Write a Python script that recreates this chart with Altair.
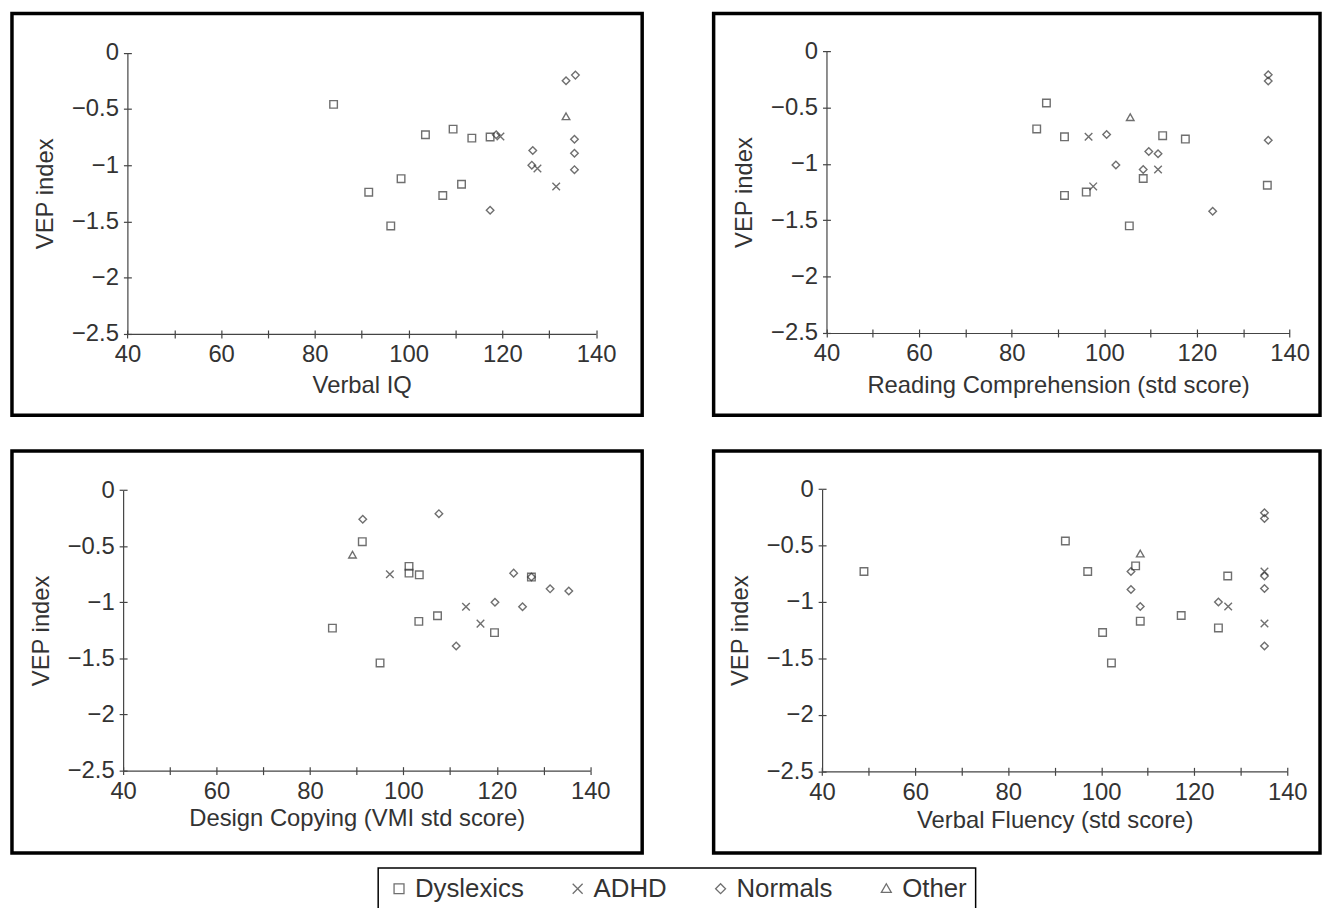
import altair as alt
import pandas as pd

FONT = "Liberation Sans"
INK = "#333333"

GROUPS = ["Dyslexics", "ADHD", "Normals", "Other"]
CODES = {"D": "Dyslexics", "A": "ADHD", "N": "Normals", "O": "Other"}
SHAPES = [
    "M-1,-1H1V1H-1Z",            # square
    "M-1,-1L1,1M-1,1L1,-1",      # x
    "M0,-1L1,0L0,1L-1,0Z",       # diamond
    "M0,-1L1,0.75H-1Z",          # triangle
]

X_TICKS = [40, 50, 60, 70, 80, 90, 100, 110, 120, 130, 140]
Y_TICKS = [0, -0.5, -1, -1.5, -2, -2.5]

# Panel 1: Verbal IQ
viq_x = [84, 91.5, 96.2, 98.4, 103.6, 107.3, 109.5, 111.3, 113.5, 117.4,
         119.6, 127.5, 131.5,
         118.7, 117.4, 126.5, 126.3, 133.6, 135.6, 135.4, 135.4, 135.4,
         133.6]
viq_y = [-0.46, -1.24, -1.54, -1.12, -0.73, -1.27, -0.68, -1.17, -0.76, -0.75,
         -0.745, -1.03, -1.19,
         -0.73, -1.40, -0.87, -1.0, -0.25, -0.2, -0.77, -0.895, -1.04,
         -0.57]
viq_g = ["D", "D", "D", "D", "D", "D", "D", "D", "D", "D",
         "A", "A", "A",
         "N", "N", "N", "N", "N", "N", "N", "N", "N",
         "O"]

# Panel 2: Reading Comprehension
rc_x = [87.5, 85.4, 91.4, 112.6, 117.5, 108.4, 91.4, 96.1, 105.4, 135.2,
        96.6, 111.6, 97.6,
        100.5, 109.6, 111.6, 102.5, 108.4, 123.4, 135.4, 135.4, 135.4,
        105.6]
rc_y = [-0.46, -0.69, -0.76, -0.75, -0.78, -1.13, -1.28, -1.25, -1.55, -1.19,
        -0.76, -1.05, -1.20,
        -0.74, -0.89, -0.91, -1.01, -1.05, -1.42, -0.21, -0.265, -0.79,
        -0.59]
rc_g = ["D", "D", "D", "D", "D", "D", "D", "D", "D", "D",
        "A", "A", "A",
        "N", "N", "N", "N", "N", "N", "N", "N", "N",
        "O"]

# Panel 3: Design Copying
dc_x = [91.2, 101.2, 101.2, 103.4, 84.8, 95.0, 103.3, 107.3, 119.5, 127.4,
        97.1, 113.4, 116.5,
        91.3, 107.6, 119.6, 111.3, 123.6, 127.4, 125.5, 131.4, 135.4,
        89.1]
dc_y = [-0.46, -0.68, -0.74, -0.755, -1.23, -1.54, -1.17, -1.12, -1.27, -0.775,
        -0.75, -1.04, -1.19,
        -0.26, -0.21, -1.0, -1.39, -0.74, -0.775, -1.04, -0.88, -0.90,
        -0.58]
dc_g = ["D", "D", "D", "D", "D", "D", "D", "D", "D", "D",
        "A", "A", "A",
        "N", "N", "N", "N", "N", "N", "N", "N", "N",
        "O"]

# Panel 4: Verbal Fluency
vf_x = [49, 92.3, 97.1, 107.4, 108.4, 100.3, 102.2, 117.2, 127.2, 125.2,
        127.3, 135.1, 135.1,
        106.4, 106.4, 108.4, 125.2, 135.1, 135.1, 135.1, 135.1, 135.1,
        108.4]
vf_y = [-0.73, -0.46, -0.73, -0.68, -1.17, -1.27, -1.54, -1.12, -0.77, -1.23,
        -1.04, -0.73, -1.19,
        -0.73, -0.89, -1.04, -1.0, -0.21, -0.26, -0.77, -0.88, -1.39,
        -0.575]
vf_g = ["D", "D", "D", "D", "D", "D", "D", "D", "D", "D",
        "A", "A", "A",
        "N", "N", "N", "N", "N", "N", "N", "N", "N",
        "O"]


def frame(xs, ys, gs):
    return pd.DataFrame({"x": xs, "y": ys, "group": [CODES[g] for g in gs]})


def panel(df, xtitle, W, H, xa, xb, yb, yt, tpad):
    base = alt.Chart(df)
    main = base.mark_point(filled=False, size=58, strokeWidth=1.4, color=INK).encode(
        x=alt.X("x:Q",
                scale=alt.Scale(domain=[40, 140], range=[xa, xb], nice=False, zero=False),
                axis=alt.Axis(orient="bottom", offset=-(H - yb), values=X_TICKS,
                              labelExpr="datum.value % 20 === 0 ? datum.label : ''",
                              labelOverlap=False, labelFlush=False, labelPadding=5,
                              title=xtitle, titlePadding=tpad, grid=False)),
        y=alt.Y("y:Q",
                scale=alt.Scale(domain=[-2.5, 0], range=[yb, yt], nice=False, zero=False),
                axis=alt.Axis(orient="left", offset=-xa, values=Y_TICKS, format="~g",
                              labelOverlap=False, labelFlush=False, labelPadding=5,
                              title="VEP index", titlePadding=14, grid=False)),
        shape=alt.Shape("group:N",
                        scale=alt.Scale(domain=GROUPS, range=SHAPES),
                        legend=alt.Legend(title=None, orient="none", legendX=369, legendY=861,
                                          direction="horizontal")),
    )
    cross = base.mark_point(opacity=0).encode(
        x=alt.X("x:Q",
                axis=alt.Axis(orient="top", offset=-yb, values=X_TICKS, labels=False,
                              domain=False, title="", grid=False)),
        y=alt.Y("y:Q",
                axis=alt.Axis(orient="right", offset=xa - W, values=Y_TICKS, labels=False,
                              domain=False, title="", grid=False)),
    )
    return (alt.layer(main, cross)
            .resolve_axis(x="independent", y="independent")
            .properties(width=W, height=H))


p1 = panel(frame(viq_x, viq_y, viq_g), "Verbal IQ", 635, 405, 116.3, 588.5, 323, 39.5, 7)
p2 = panel(frame(rc_x, rc_y, rc_g), "Reading Comprehension (std score)", 611, 405, 113.7, 580.3, 322, 38, 8)
p3 = panel(frame(dc_x, dc_y, dc_g), "Design Copying (VMI std score)", 635, 405, 112, 582.7, 322, 39.3, 3)
p4 = panel(frame(vf_x, vf_y, vf_g), "Verbal Fluency (std score)", 611, 405, 109.3, 578, 322.7, 38.3, 5)

chart = (
    alt.vconcat(
        alt.hconcat(p1, p2, spacing=68),
        alt.hconcat(p3, p4, spacing=68),
        spacing=32,
    )
    .properties(padding={"left": 2, "top": 0, "right": 0, "bottom": 0})
    .configure_view(stroke="black", strokeWidth=3.5)
    .configure_axis(
        labelFont=FONT, titleFont=FONT, labelFontSize=24, titleFontSize=24,
        titleFontWeight="normal", labelColor=INK, titleColor=INK,
        domainColor="#444444", tickColor="#444444", tickSize=4, tickWidth=1.2,
        domainWidth=1.2,
    )
    .configure_legend(
        labelFont=FONT, labelFontSize=26, labelColor=INK,
        symbolSize=100, symbolStrokeWidth=1.3, symbolStrokeColor=INK,
        symbolFillColor="transparent",
        strokeColor="black", strokeWidth=1.5, padding=8,
        columnPadding=41, labelOffset=3,
    )
)

chart.save("out.html", embed_options={"renderer": "svg", "actions": False})
